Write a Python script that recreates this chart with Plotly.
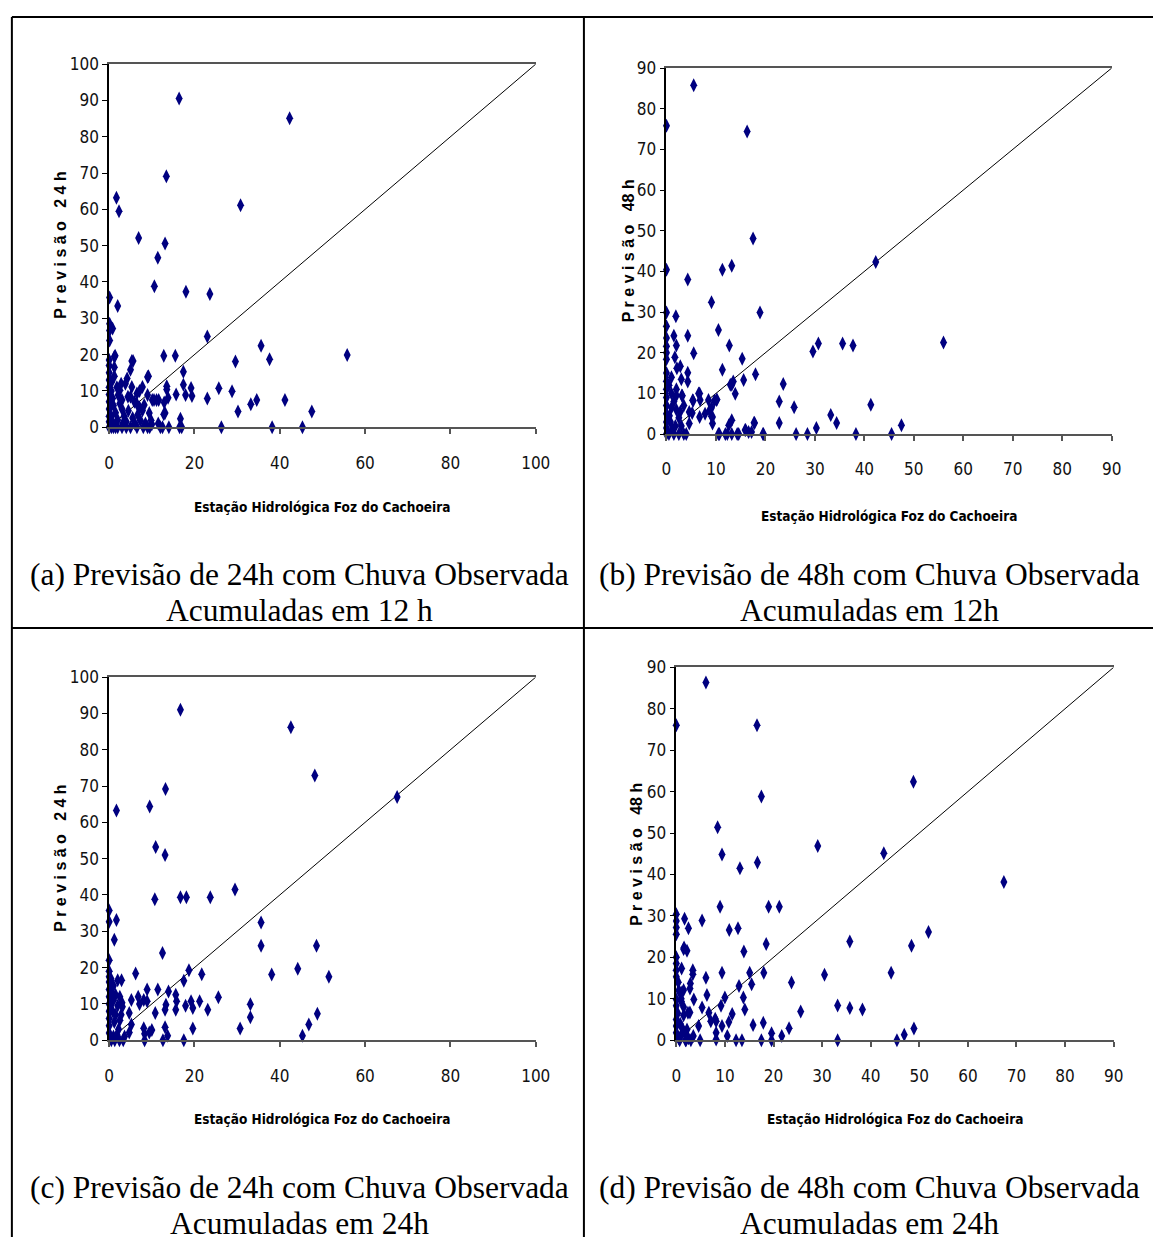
import plotly.graph_objects as go

# ---------------- data ----------------
a_x = [16.4,42.3,13.4,1.7,2.3,30.8,6.9,11.4,13.1,10.6,18.0,23.6,0.1,2.0,0.1,0.8,0.1,0.1,23.0,35.6,
       37.6,29.6,12.8,15.5,1.4,5.6,17.4,17.4,19.2,19.4,17.9,15.7,13.5,13.5,13.8,12.9,11.6,10.5,9.2,13.1,
       16.7,25.7,28.8,23.0,30.2,33.2,34.6,41.2,47.5,26.3,38.2,45.3,55.8,
       0,0,0,0,0,0,0,0,0,0,0,1.2,1.2,1.2,5.3,5.0,4.2,3.8,9.0,2.8,
       2.5,2.1,5.3,7.8,7.1,6.5,5.0,4.4,5.9,6.5,7.1,8.2,7.8,9.0,10.1,11.1,9.4,9.8,6.7,7.3,
       12.8,0.5,0.8,1,1.5,2,1,0.5,3,3.5,4,2.5,1.8,0.6,3,4.5,5.5,6,8.5,10,
       11.5,3.2,0.5,1,1.5,2,3,4,5,6.5,8,9,9.5,12,12.5,14,16.5,17]
a_y = [90.5,85.1,69.1,63.2,59.5,61.1,52.1,46.7,50.6,38.8,37.3,36.7,35.7,33.4,28.5,27.2,26.6,23.9,25.0,22.4,
       18.7,18.1,19.7,19.7,19.7,18.2,15.3,11.7,10.8,8.6,8.9,9.0,11.3,10.4,8.1,6.8,7.5,7.5,14.0,3.9,
       2.3,10.7,9.9,7.9,4.3,6.3,7.5,7.5,4.3,0,0,0,19.9,
       18.5,17,15,13,11,9,7,5,3,1.5,0,19.4,16.5,14,18.2,15.8,13.4,12.0,13.8,12,
       10.2,8.9,11.1,11.1,10,9.3,8.4,8.4,7,6.4,5.5,6.1,4.6,8.9,7.5,7.5,3.9,1.9,3.4,1.9,
       3.6,10,8,6,4,2,1,3,5,3,1.5,6.5,11,12.5,7.5,4.5,2.5,1,1,0.8,
       1,1,0,0,0,0,0,0,0,0,0,0,0,0,0,0,0,0]

b_x = [5.5,0,16.3,17.5,0,11.3,13.2,4.3,9.1,18.9,0,1.9,0,0,0,0,0,1.5,2.0,1.7,
       4.3,5.5,10.5,12.7,15.3,11.3,18.0,15.6,13.5,13.2,12.9,13.9,2.8,2.1,4.3,4.3,3.0,3.1,6.5,6.8,
       8.5,10.1,9.1,7.8,9.1,5.3,5.2,4.6,13.2,12.6,17.7,15.9,16.6,17.2,19.5,10.5,11.9,13.2,14.3,42.3,
       23.6,22.8,25.8,22.8,29.6,30.7,35.6,37.7,33.2,34.4,41.3,30.3,26.2,28.5,38.3,45.5,56,47.5,
       8.7,9.7,10.2,6.7,5.4,3.2,4.6,6.7,9.3,9.3,10.7,12.3,14.6,16,17.8,19.6,
       0,0,0,0,0,0,0,0,0,0.5,1,1.5,2,2.5,3,1,0.8,1.2,2,3.5,0.5,1.5,2.5,3.5,4,1,2,0.6,1.8,2.8]
b_y = [85.8,75.8,74.4,48.1,40.4,40.4,41.4,38.0,32.4,29.9,29.9,29.0,26.5,23.6,21.6,20,18.4,24.2,21.8,18.9,
       24.2,19.9,25.6,21.8,18.5,15.8,14.7,13.3,12.9,12.1,12.1,9.9,16.7,16.2,15.1,12.9,13.5,9.5,10.0,8.4,
       8.4,8.4,6.5,5.0,4.4,8.3,5.2,2.6,3.4,2.2,2.8,1,0.5,0.5,0,0,0,0,0,42.3,
       12.3,8.0,6.6,2.7,20.3,22.3,22.3,21.8,4.7,2.7,7.2,1.5,0,0,0,0,22.5,2.2,
       5.8,8.2,8.5,10,8.2,9.4,5.4,4.2,4.2,2.6,0,0,0,1,2.7,0,
       15,13,11,9,7,5,3,1.5,0,12,10,8,6,4,2,6.5,3,1,9.5,7,0,0,0,0,0,14,11,4.5,2,5.5]

c_x = [16.7,42.6,48.2,1.7,9.5,13.2,10.9,13.1,10.7,16.7,18.1,23.7,29.5,0,0,1.7,1.2,35.6,35.6,48.6,
       44.2,38.1,12.5,0,6.2,18.7,21.7,17.5,11.4,8.9,13.9,15.6,15.8,15.6,21.2,25.6,23.1,19.2,19.6,17.9,
       13.3,13.1,10.8,13.1,13.7,12.6,17.5,19.6,30.7,33.1,33.1,46.8,45.3,48.8,8.3,9.4,10,8.3,8.1,8.9,
       8.1,6.8,7.1,5.2,4.7,5.2,4.7,3.1,3.0,2.5,2.9,3.3,51.5,67.5,
       0,0,0,0,0,0,0,0,0,0,0.5,1,1.5,2,0.8,1.2,2.2,1,0.5,1.5,2.5,0.6,1.8,2.4,1.3,0.4,2.8,3.6,1,2]
c_y = [91.0,86.2,72.9,63.3,64.4,69.2,53.2,51.0,38.8,39.4,39.4,39.4,41.5,35.7,32.6,33.1,27.7,32.4,26.0,26.0,
       19.7,18.1,24.0,22.0,18.4,19.3,18.2,16.4,14.0,14.0,13.4,12.5,10.7,8.4,10.7,11.8,8.4,10.7,8.9,9.5,
       9.8,8.4,7.5,3.6,1.2,0,0,3.2,3.2,9.9,6.3,4.3,1.2,7.3,1.8,2.1,2.8,0,3.3,10.7,
       11.1,12.0,10,11.1,7.5,4.3,2.1,9.2,10.3,12.0,16.5,0,17.5,67,
       19,17.5,16,14,12,10,8,6,4,2,0,15,12.5,9.5,8,5,3,1,10.5,7,5.5,13,1.5,0,0,17,7,1,11,16.5]

d_x = [6.1,0,16.6,17.5,8.5,9.4,13.1,16.7,9.0,19.0,21.2,0,0,0,0,1.7,5.3,2.5,10.9,12.7,
       13.9,18.5,1.6,2.2,1.5,0,0,0,0,1.1,3.4,3.4,9.4,15.1,18,6.1,2.9,2.8,1.5,1.0,
       12.9,15.5,23.7,6.3,3.6,10.0,13.8,14.1,9.2,5.3,0,0,1.0,2.4,2.8,6.7,8,7.1,8.2,11.5,
       10.8,9.4,4.6,15.8,17.9,25.6,23.2,21.7,19.6,10.5,8.2,8.2,4.9,3.0,1.9,0.7,12.3,13.5,17.5,19.6,
       2.2,1.7,0.9,0,0,0,51.9,48.4,35.7,44.2,30.5,33.2,35.7,38.3,33.2,45.4,46.9,48.9,67.4,48.8,
       29.1,42.7,
       0.5,1,1.5,0.3,0.8,1.2,2,0.5,1.5,2.5,3.5,0.4]
d_y = [86.3,76.0,76.0,58.8,51.4,44.8,41.5,42.9,32.2,32.2,32.2,30.4,28.8,27.2,25.6,29.3,28.9,27.0,26.6,27.0,
       21.4,23.2,22.4,21.6,22,20,18.5,16.9,15.3,17.3,16.9,15.9,16.3,16.3,16.3,15.1,13.7,12.5,12.1,11.5,
       13.1,13.5,13.9,10.9,9.8,10.3,10.3,7.4,8.3,7.9,9.8,8.3,9.4,6.6,6.7,6.6,5.2,4.6,4.6,6.3,
       4.4,3.4,3.4,3.7,4.2,6.9,2.9,1.0,1.7,1.0,0.2,1.8,0,0,0,0,0,0,0,0,
       2.6,1.8,1.0,5,3.4,1.8,26.1,22.8,23.8,16.3,15.8,8.4,7.8,7.4,0,0,1.3,2.8,38.2,62.4,
       46.9,45.1,
       12,10,8,6.5,4,3,0,0.5,6,0.5,1,14]

axis_max = {"a": 100, "b": 90, "c": 100, "d": 90}
x_step = {"a": 20, "b": 10, "c": 20, "d": 10}
y_step = {"a": 10, "b": 10, "c": 10, "d": 10}
y_titles = {"a": "P r e v i s ã o   2 4 h", "b": "P r e v i s ã o   48 h",
            "c": "P r e v i s ã o   2 4 h", "d": "P r e v i s ã o   48 h"}
x_title = "Estação Hidrológica Foz do Cachoeira"
captions = {
    "a": ["(a) Previsão de 24h com Chuva Observada", "Acumuladas em 12 h"],
    "b": ["(b) Previsão de 48h com Chuva Observada", "Acumuladas em 12h"],
    "c": ["(c) Previsão de 24h com Chuva Observada", "Acumuladas em 24h"],
    "d": ["(d) Previsão de 48h com Chuva Observada", "Acumuladas em 24h"],
}
series = {"a": (a_x, a_y), "b": (b_x, b_y), "c": (c_x, c_y), "d": (d_x, d_y)}

# ---------------- layout geometry (pixels) ----------------
W, H = 1168, 1247
areas = {"a": (106, 540, 55, 424), "b": (673, 1126, 59, 431),
         "c": (106, 540, 678, 1047), "d": (683, 1128, 668, 1047)}
xtitle_y = {"a": 505, "b": 514, "c": 1127, "d": 1127}
ytitle_x = {"a": 57, "b": 634, "c": 57, "d": 643}
cap_x = {"a": 300, "b": 880, "c": 300, "d": 880}
cap_y = {"a": (574, 610), "b": (574, 610), "c": (1197, 1233), "d": (1197, 1233)}

def px(x):
    return x / W

def py(y):
    return 1 - y / H

TICKF = "DejaVu Sans Condensed, Liberation Sans, Arial, sans-serif"
SERIF = "Liberation Serif, Times New Roman, serif"
ARIAL = "Liberation Sans, Arial, sans-serif"

fig = go.Figure()
annotations = []
layout_axes = {}
for i, k in enumerate(["a", "b", "c", "d"]):
    n = "" if i == 0 else str(i + 1)
    xa, ya = "x" + n, "y" + n
    l, r, t, b = areas[k]
    m = axis_max[k]
    xs, ys = series[k]
    fig.add_trace(go.Scatter(x=[0, m], y=[0, m], mode="lines",
                             line=dict(color="black", width=1),
                             xaxis=xa, yaxis=ya, showlegend=False, hoverinfo="skip"))
    fig.add_trace(go.Scatter(x=xs, y=ys, mode="markers", cliponaxis=False,
                             marker=dict(symbol="diamond-tall", size=10, color="#000080",
                                         line=dict(width=0)),
                             xaxis=xa, yaxis=ya, showlegend=False))
    layout_axes["xaxis" + n] = dict(
        domain=[px(l), px(r)], range=[0, m], anchor=ya,
        tickmode="array", tickvals=list(range(0, m + 1, x_step[k])),
        ticks="outside", ticklen=5, tickcolor="#555555", tickwidth=1.5,
        showline=True, linecolor="#555555", linewidth=2, mirror=True,
        showgrid=False, zeroline=False, ticklabelstandoff=14,
        tickfont=dict(family=TICKF, size=17, color="#111111"))
    layout_axes["yaxis" + n] = dict(
        domain=[py(b), py(t)], range=[0, m], anchor=xa,
        tickmode="array", tickvals=list(range(0, m + 1, y_step[k])),
        ticks="outside", ticklen=5, tickcolor="black", tickwidth=1,
        showline=True, linecolor="black", linewidth=1.5, mirror=False,
        showgrid=False, zeroline=False,
        tickfont=dict(family=TICKF, size=17, color="#111111"))
    annotations.append(dict(text="<b>" + x_title + "</b>", x=px((l + r) / 2), y=py(xtitle_y[k]),
                            xref="paper", yref="paper", showarrow=False,
                            xanchor="center", yanchor="middle",
                            font=dict(family=TICKF, size=13.5, color="black")))
    annotations.append(dict(text="<b>" + y_titles[k] + "</b>", x=px(ytitle_x[k]), y=py((t + b) / 2),
                            xref="paper", yref="paper", showarrow=False, textangle=-90,
                            xanchor="center", yanchor="middle",
                            font=dict(family=ARIAL, size=16, color="black")))
    for line, yy in zip(captions[k], cap_y[k]):
        annotations.append(dict(text=line, x=px(cap_x[k]), y=py(yy), xref="paper", yref="paper",
                                showarrow=False, xanchor="center", yanchor="middle",
                                font=dict(family=SERIF, size=31.5, color="black")))

shapes = [
    dict(type="line", xref="paper", yref="paper", x0=px(7), x1=1, y0=py(7), y1=py(7),
         line=dict(color="black", width=2)),
    dict(type="line", xref="paper", yref="paper", x0=px(7), x1=px(7), y0=py(7), y1=0,
         line=dict(color="black", width=2)),
    dict(type="line", xref="paper", yref="paper", x0=px(589), x1=px(589), y0=py(7), y1=0,
         line=dict(color="black", width=2)),
    dict(type="line", xref="paper", yref="paper", x0=px(7), x1=1, y0=py(628), y1=py(628),
         line=dict(color="black", width=2)),
]

fig.update_layout(width=W, height=H, margin=dict(l=0, r=0, t=0, b=0),
                  paper_bgcolor="white", plot_bgcolor="white",
                  annotations=annotations, shapes=shapes, **layout_axes)
fig.write_html("out.html")
